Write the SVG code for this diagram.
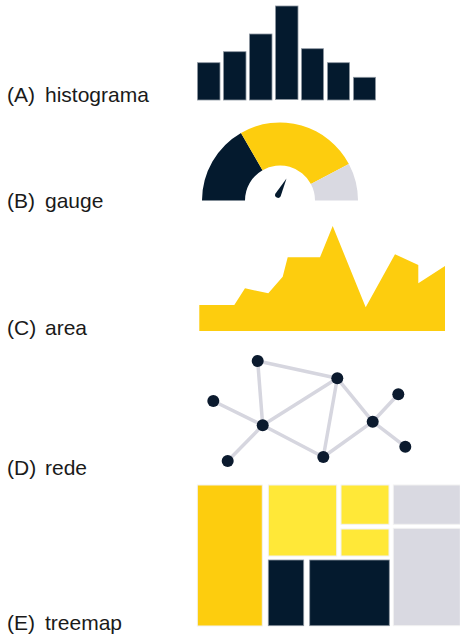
<svg xmlns="http://www.w3.org/2000/svg" width="460" height="634" viewBox="0 0 460 634">
<style>
.lbl{font-family:"Liberation Sans",Arial,sans-serif;font-size:21px;fill:#1a1a1a}
.dk{fill:#041a2e}
.bar{fill:#041a2e;stroke:#8d96a0;stroke-width:0.8}
.gold{fill:#fdcd0e}
.lyel{fill:#ffe838}
.gray{fill:#d9d9e1}
.edge{stroke:#d6d6df;stroke-width:3.5;fill:none;stroke-linecap:round}
.nd{fill:#0b1a2e}
.tm{stroke:#f2f2f2;stroke-width:1}
.tmd{fill:#041a2e;stroke:#8d96a0;stroke-width:0.8}
</style>
<rect width="460" height="634" fill="#ffffff"/>

<g id="labels">
<text class="lbl" x="7" y="102">(A)<tspan x="45">histograma</tspan></text>
<text class="lbl" x="7" y="208">(B)<tspan x="45">gauge</tspan></text>
<text class="lbl" x="7" y="335">(C)<tspan x="45">area</tspan></text>
<text class="lbl" x="7" y="475">(D)<tspan x="45">rede</tspan></text>
<text class="lbl" x="7" y="630">(E)<tspan x="45">treemap</tspan></text>
</g>

<g id="histograma">
<rect class="bar" x="197.5" y="62.7" width="22.5" height="37.3"/>
<rect class="bar" x="223.5" y="51.7" width="22.5" height="48.3"/>
<rect class="bar" x="249.5" y="34" width="22.5" height="66"/>
<rect class="bar" x="275.5" y="6" width="22.5" height="93.5"/>
<rect class="bar" x="301.5" y="48.7" width="22" height="51.3"/>
<rect class="bar" x="327.5" y="62.7" width="22" height="37.3"/>
<rect class="bar" x="353.5" y="77.3" width="22" height="22.7"/>
</g>

<g id="gauge">
<path class="dk" d="M202,200.5 A78,78 0 0 1 241,132.95 L262.5,170.19 A35,35 0 0 0 245,200.5 Z"/>
<path class="gold" d="M241,132.95 A78,78 0 0 1 348.87,163.88 L310.9,184.07 A35,35 0 0 0 262.5,170.19 Z"/>
<path class="gray" d="M348.87,163.88 A78,78 0 0 1 358,200.5 L315,200.5 A35,35 0 0 0 310.9,184.07 Z"/>
<path class="dk" d="M286.5,178.5 L280.66,196.37 A3,3 0 0 1 275.34,193.63 Z"/>
</g>

<g id="area">
<polygon class="gold" points="199.3,331 199.3,305 234.3,305 245,288.3 268.3,293.3 282.7,276.7 287.7,257.3 320,257.3 332.7,226 365.7,307.3 395,254.3 418.3,265 418.3,283.3 445,266 445,331"/>
</g>

<g id="rede">
<g id="connectors">
<line class="edge" x1="257.7" y1="361" x2="337.3" y2="378.3"/>
<line class="edge" x1="257.7" y1="361" x2="262.7" y2="425.3"/>
<line class="edge" x1="213.3" y1="401" x2="262.7" y2="425.3"/>
<line class="edge" x1="262.7" y1="425.3" x2="337.3" y2="378.3"/>
<line class="edge" x1="262.7" y1="425.3" x2="227.7" y2="461"/>
<line class="edge" x1="262.7" y1="425.3" x2="323.3" y2="457"/>
<line class="edge" x1="337.3" y1="378.3" x2="323.3" y2="457"/>
<line class="edge" x1="337.3" y1="378.3" x2="372.7" y2="421.7"/>
<line class="edge" x1="323.3" y1="457" x2="372.7" y2="421.7"/>
<line class="edge" x1="372.7" y1="421.7" x2="398.3" y2="394.3"/>
<line class="edge" x1="372.7" y1="421.7" x2="405.3" y2="446.7"/>
</g>
<circle id="n1" class="nd" cx="257.7" cy="361" r="6"/>
<circle id="n2" class="nd" cx="337.3" cy="378.3" r="6"/>
<circle id="n3" class="nd" cx="213.3" cy="401" r="6"/>
<circle id="n4" class="nd" cx="262.7" cy="425.3" r="6"/>
<circle id="n5" class="nd" cx="372.7" cy="421.7" r="6"/>
<circle id="n6" class="nd" cx="398.3" cy="394.3" r="6"/>
<circle id="n7" class="nd" cx="405.3" cy="446.7" r="6"/>
<circle id="n8" class="nd" cx="227.7" cy="461" r="6"/>
<circle id="n9" class="nd" cx="323.3" cy="457" r="6"/>
</g>

<g id="treemap">
<rect class="gold tm" x="197.3" y="485" width="65" height="141"/>
<rect class="lyel tm" x="268.3" y="485" width="68.4" height="71"/>
<rect class="lyel tm" x="341" y="485" width="48" height="39.3"/>
<rect class="lyel tm" x="341" y="529" width="48" height="27"/>
<rect class="tmd" x="268.3" y="560" width="35.4" height="65.7"/>
<rect class="tmd" x="309.7" y="560" width="79.6" height="65.7"/>
<rect class="gray tm" x="393.3" y="485" width="67" height="39.3"/>
<rect class="gray tm" x="393.3" y="528.3" width="67" height="97.4"/>
</g>
</svg>
